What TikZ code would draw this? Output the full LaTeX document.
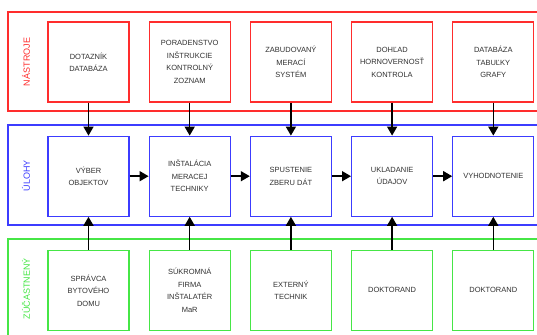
\documentclass[tikz,border=0pt]{standalone}
\usepackage{fontspec}
\setmainfont{Liberation Sans}
\usepackage{tikz}
\usetikzlibrary{positioning,arrows.meta}
\definecolor{toolred}{RGB}{255,45,45}
\definecolor{taskblue}{RGB}{60,60,255}
\definecolor{actgreen}{RGB}{70,230,70}
\definecolor{boxtext}{RGB}{50,50,50}

\begin{document}
\begin{tikzpicture}[x=1pt, y=-1pt,
  >={Triangle[length=9pt,width=10pt]},
  box/.style={rectangle, draw, line width=1.2pt, fill=white,
              minimum width=81pt, minimum height=80pt, inner sep=2pt,
              align=center, text=boxtext, font=\fontsize{7.5}{12.5}\selectfont},
  tool/.style={box, draw=toolred},
  task/.style={box, draw=taskblue},
  actor/.style={box, draw=actgreen},
  frame/.style={line width=1.2pt},
  rowlabel/.style={rotate=90, font=\fontsize{9}{11}\selectfont},
  link/.style={->, line width=1.5pt, black}
]
\clip (0,0) rectangle (537,334);
% row frames
\draw[frame, toolred] (8,12) rectangle (545,111);
\draw[frame, taskblue] (8,125) rectangle (545,225);
\draw[frame, actgreen] (8,239) rectangle (545,345);
\node[rowlabel, text=toolred] (ltool) at (26,62) {NÁSTROJE};
\node[rowlabel, text=taskblue] (ltask) at (26,175.5) {ÚLOHY};
\node[rowlabel, text=actgreen] (lactor) at (26,288.5) {ZÚČASTNENÝ};
% tools
\node[tool] (t1) at (88.5,62) {DOTAZNÍK\\DATABÁZA};
\node[tool, right=19pt of t1] (t2) {PORADENSTVO\\INŠTRUKCIE\\KONTROLNÝ\\ZOZNAM};
\node[tool, right=19pt of t2] (t3) {ZABUDOVANÝ\\MERACÍ\\SYSTÉM};
\node[tool, right=19pt of t3] (t4) {DOHĽAD\\HORNOVERNOSŤ\\KONTROLA};
\node[tool, right=19pt of t4] (t5) {DATABÁZA\\TABUĽKY\\GRAFY};
% tasks
\node[task, below=33pt of t1] (s1) {VÝBER\\OBJEKTOV};
\node[task, below=33pt of t2] (s2) {INŠTALÁCIA\\MERACEJ\\TECHNIKY};
\node[task, below=33pt of t3] (s3) {SPUSTENIE\\ZBERU DÁT};
\node[task, below=33pt of t4] (s4) {UKLADANIE\\ÚDAJOV};
\node[task, below=33pt of t5] (s5) {VYHODNOTENIE};
% participants
\node[actor, below=33pt of s1] (a1) {SPRÁVCA\\BYTOVÉHO\\DOMU};
\node[actor, below=33pt of s2] (a2) {SÚKROMNÁ\\FIRMA\\INŠTALATÉR\\MaR};
\node[actor, below=33pt of s3] (a3) {EXTERNÝ\\TECHNIK};
\node[actor, below=33pt of s4] (a4) {DOKTORAND};
\node[actor, below=33pt of s5] (a5) {DOKTORAND};
% connectors
\draw[link] (t1) -- (s1);
\draw[link] (t2) -- (s2);
\draw[link] (t3) -- (s3);
\draw[link] (t4) -- (s4);
\draw[link] (t5) -- (s5);
\draw[link] (s1) -- (s2);
\draw[link] (s2) -- (s3);
\draw[link] (s3) -- (s4);
\draw[link] (s4) -- (s5);
\draw[link] (a1) -- (s1);
\draw[link] (a2) -- (s2);
\draw[link] (a3) -- (s3);
\draw[link] (a4) -- (s4);
\draw[link] (a5) -- (s5);
\end{tikzpicture}
\end{document}
